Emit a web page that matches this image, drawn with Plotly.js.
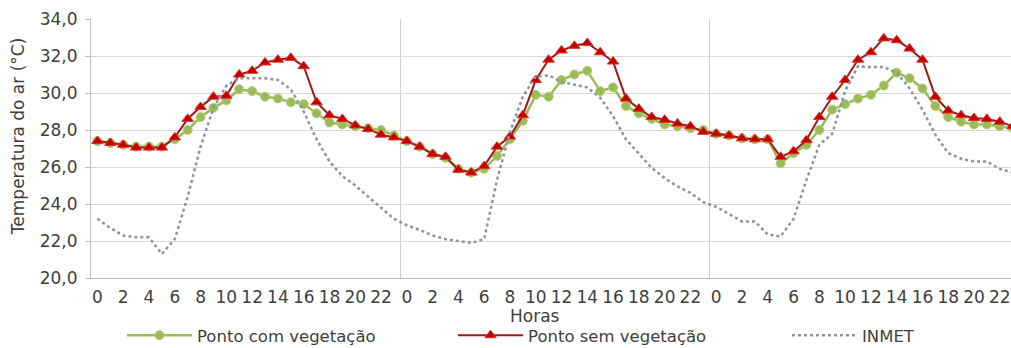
<!DOCTYPE html>
<html><head><meta charset="utf-8">
<script src="https://cdn.plot.ly/plotly-3.0.1.min.js"></script>
<style>html,body{margin:0;padding:0;background:#fff;overflow:hidden}#chart{width:1011px;height:348px}</style>
</head><body><div id="chart"></div>
<script>
// hour index across three consecutive days (0..71)
const hourIndex = [0,1,2,3,4,5,6,7,8,9,10,11,12,13,14,15,16,17,18,19,20,21,22,23,
  24,25,26,27,28,29,30,31,32,33,34,35,36,37,38,39,40,41,42,43,44,45,46,47,
  48,49,50,51,52,53,54,55,56,57,58,59,60,61,62,63,64,65,66,67,68,69,70,71];
const tickPositions = [0,2,4,6,8,10,12,14,16,18,20,22,24,26,28,30,32,34,36,38,40,42,44,46,48,50,52,54,56,58,60,62,64,66,68,70];
const tickLabels = ['0','2','4','6','8','10','12','14','16','18','20','22',
  '0','2','4','6','8','10','12','14','16','18','20','22',
  '0','2','4','6','8','10','12','14','16','18','20','22'];

const comVegetacao = [
  27.4,27.3,27.2,27.1,27.1,27.1,27.5,28.0,28.7,29.2,29.6,30.2,30.1,29.8,29.7,29.5,29.4,28.9,28.4,28.3,28.2,28.1,28.0,27.7,
  27.4,27.1,26.7,26.5,25.9,25.7,25.9,26.6,27.5,28.5,29.9,29.8,30.7,31.0,31.2,30.1,30.3,29.3,28.9,28.6,28.3,28.2,28.1,28.0,
  27.8,27.7,27.55,27.5,27.5,26.2,26.75,27.2,28.0,29.1,29.4,29.7,29.9,30.4,31.1,30.8,30.25,29.3,28.7,28.45,28.3,28.3,28.2,28.1];
const semVegetacao = [
  27.4,27.3,27.2,27.05,27.05,27.05,27.6,28.6,29.25,29.8,29.85,31.0,31.2,31.65,31.8,31.9,31.45,29.5,28.8,28.6,28.25,28.05,27.75,27.6,
  27.4,27.1,26.7,26.55,25.85,25.7,26.05,27.1,27.65,28.8,30.7,31.8,32.3,32.55,32.7,32.2,31.7,29.7,29.15,28.7,28.55,28.35,28.2,27.9,
  27.8,27.7,27.55,27.5,27.5,26.55,26.85,27.45,28.7,29.8,30.7,31.8,32.2,32.95,32.85,32.4,31.8,29.8,29.05,28.8,28.65,28.6,28.45,28.2];
const inmet = [
  23.2,22.7,22.3,22.2,22.2,21.3,22.1,24.4,27.1,29.2,30.4,30.8,30.8,30.8,30.7,30.2,29.0,27.5,26.3,25.5,25.0,24.4,23.85,23.2,
  22.85,22.6,22.3,22.1,22.0,21.9,22.1,25.3,27.9,29.8,30.9,30.95,30.6,30.45,30.3,29.75,28.75,27.5,26.7,25.95,25.4,24.95,24.6,24.1,
  23.85,23.45,23.06,23.06,22.35,22.25,23.2,25.3,27.2,27.8,30.1,31.45,31.4,31.4,31.1,30.25,29.1,27.75,26.75,26.45,26.3,26.3,25.9,25.7];

const seriesNames = ['Ponto com vegetação','Ponto sem vegetação','INMET'];
const axisTitleY = 'Temperatura do ar (°C)';
const axisTitleX = 'Horas';

const FONT = 'DejaVu Sans, Arial, sans-serif';
const TXT = '#404040';

const traces = [
  {x: hourIndex, y: comVegetacao, name: seriesNames[0], legend: 'legend', type: 'scatter', mode: 'lines+markers',
   line: {color: '#9BBB59', width: 2.5},
   marker: {symbol: 'circle', size: 9, color: '#9BBB59', line: {color: '#B5CF7A', width: 1}}},
  {x: hourIndex, y: semVegetacao, name: seriesNames[1], legend: 'legend2', type: 'scatter', mode: 'lines+markers',
   line: {color: '#A01818', width: 2},
   marker: {symbol: 'triangle-up', size: 10, color: '#C00000', line: {color: '#E03020', width: 1}}},
  {x: hourIndex, y: inmet, name: seriesNames[2], legend: 'legend3', type: 'scatter', mode: 'lines',
   line: {color: '#8A94A2', width: 2.5, dash: 'dot'}}
];

function legendAt(xpos) {
  return {orientation: 'h', x: xpos, xanchor: 'left', y: -0.222, yanchor: 'middle',
    font: {family: FONT, size: 16.5, color: TXT}, itemwidth: 65,
    bgcolor: 'rgba(0,0,0,0)', borderwidth: 0};
}

const layout = {
  width: 1011, height: 348,
  margin: {l: 91, r: 0, t: 19, b: 70, pad: 0, autoexpand: false},
  paper_bgcolor: '#ffffff', plot_bgcolor: '#ffffff',
  separators: ',.',
  font: {family: FONT, size: 17, color: TXT},
  showlegend: true,
  legend: legendAt(0.0337),
  legend2: legendAt(0.3935),
  legend3: legendAt(0.7565),
  xaxis: {range: [-0.5, 70.87], tickmode: 'array', tickvals: tickPositions, ticktext: tickLabels,
    tickangle: 0, showgrid: false, zeroline: false, showline: true, linecolor: '#BFBFBF', linewidth: 1,
    ticks: '', ticklabelstandoff: 4, tickfont: {family: FONT, size: 17, color: TXT},
    minor: {tickmode: 'linear', tick0: -0.5, dtick: 24, showgrid: true, gridcolor: '#D0D0D0', gridwidth: 1, ticks: ''}},
  yaxis: {range: [20, 34], dtick: 2, tick0: 20, tickformat: '.1f', showgrid: true, gridcolor: '#D9D9D9',
    gridwidth: 1, zeroline: false, showline: true, linecolor: '#BFBFBF', linewidth: 1,
    ticks: 'outside', ticklen: 5, tickcolor: '#BFBFBF', ticklabelstandoff: 4,
    tickfont: {family: FONT, size: 17, color: TXT}},
  annotations: [
    {text: axisTitleX, xref: 'paper', yref: 'paper', x: 0.483, y: -0.147, xanchor: 'center', yanchor: 'middle',
     showarrow: false, font: {family: FONT, size: 17, color: TXT}},
    {text: axisTitleY, xref: 'paper', yref: 'paper', x: -0.0793, y: 0.544, xanchor: 'center', yanchor: 'middle',
     textangle: -90, showarrow: false, font: {family: FONT, size: 17, color: TXT}}
  ]
};

Plotly.newPlot('chart', traces, layout, {displayModeBar: false, staticPlot: true});
</script></body></html>
